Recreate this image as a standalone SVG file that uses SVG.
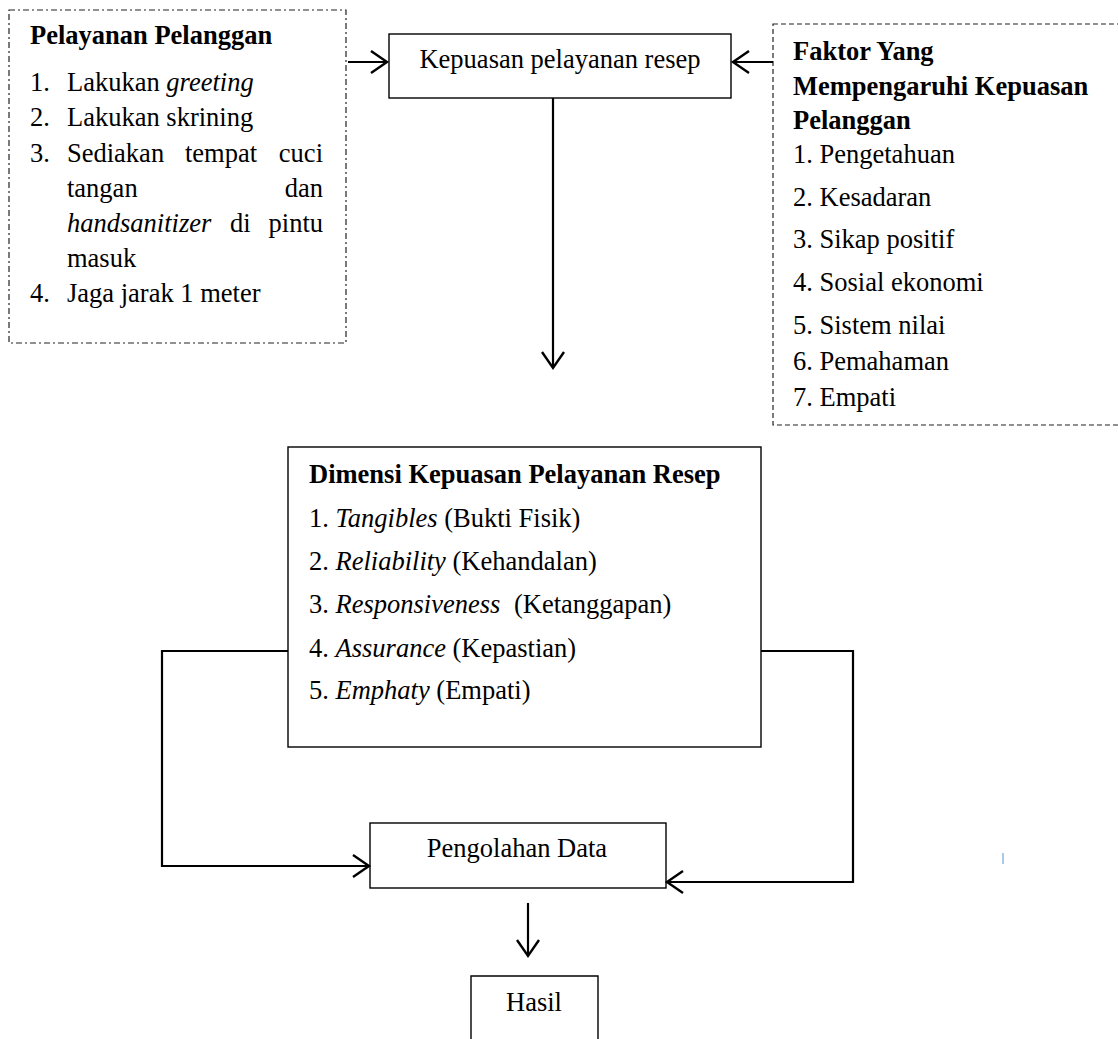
<svg xmlns="http://www.w3.org/2000/svg" width="1118" height="1039" viewBox="0 0 1118 1039" font-family="'Liberation Serif', 'DejaVu Serif', serif">
<style>
text{font-family:"Liberation Serif","DejaVu Serif",serif;font-size:26.5px;fill:#000}
.b{font-weight:bold}
.i{font-style:italic}
.box{fill:#fff;stroke:#000;stroke-width:1.4}
.dd{fill:none;stroke:#222;stroke-width:1.2;stroke-dasharray:6 3 2 3}
.da{fill:none;stroke:#222;stroke-width:1.2;stroke-dasharray:5 3}
.c{fill:none;stroke:#000;stroke-width:2.2}
</style>
<defs>
<marker id="ah" markerUnits="userSpaceOnUse" markerWidth="22" markerHeight="26" refX="18" refY="12" orient="auto">
<path d="M2,1 L18,12 L2,23" fill="none" stroke="#000" stroke-width="2.4"/>
</marker>
</defs>
<rect width="1118" height="1039" fill="#fff"/>

<g id="pelayanan-pelanggan">
<rect class="dd" x="9" y="10" width="337" height="333"/>
<text class="b" x="30" y="44">Pelayanan Pelanggan</text>
<text x="30" y="91">1.</text><text x="67" y="91">Lakukan <tspan class="i">greeting</tspan></text>
<text x="30" y="126">2.</text><text x="67" y="126">Lakukan skrining</text>
<text x="30" y="162">3.</text><text x="67" y="162">Sediakan</text><text x="185" y="162">tempat</text><text x="323" y="162" text-anchor="end">cuci</text>
<text x="67" y="197">tangan</text><text x="323" y="197" text-anchor="end">dan</text>
<text x="67" y="232" class="i">handsanitizer</text><text x="230" y="232">di</text><text x="323" y="232" text-anchor="end">pintu</text>
<text x="67" y="267">masuk</text>
<text x="30" y="302">4.</text><text x="67" y="302">Jaga jarak 1 meter</text>
</g>

<g id="kepuasan">
<rect class="box" x="389" y="34" width="342" height="64"/>
<text x="560" y="68" text-anchor="middle">Kepuasan pelayanan resep</text>
</g>

<g id="faktor">
<rect class="da" x="773" y="24" width="360" height="401"/>
<text class="b" x="793" y="60">Faktor Yang</text>
<text class="b" x="793" y="95">Mempengaruhi Kepuasan</text>
<text class="b" x="793" y="129">Pelanggan</text>
<text x="793" y="163">1. Pengetahuan</text>
<text x="793" y="206">2. Kesadaran</text>
<text x="793" y="248">3. Sikap positif</text>
<text x="793" y="291">4. Sosial ekonomi</text>
<text x="793" y="334">5. Sistem nilai</text>
<text x="793" y="370">6. Pemahaman</text>
<text x="793" y="406">7. Empati</text>
</g>

<g id="dimensi">
<rect class="box" x="288" y="447" width="473" height="300"/>
<text class="b" x="309" y="483">Dimensi Kepuasan Pelayanan Resep</text>
<text x="309" y="527">1. <tspan class="i">Tangibles</tspan> (Bukti Fisik)</text>
<text x="309" y="570">2. <tspan class="i">Reliability</tspan> (Kehandalan)</text>
<text x="309" y="613">3. <tspan class="i">Responsiveness</tspan><tspan dx="7"> (Ketanggapan)</tspan></text>
<text x="309" y="657">4. <tspan class="i">Assurance</tspan> (Kepastian)</text>
<text x="309" y="699">5. <tspan class="i">Emphaty</tspan> (Empati)</text>
</g>

<g id="pengolahan">
<rect class="box" x="370" y="823" width="296" height="65"/>
<text x="517" y="857" text-anchor="middle">Pengolahan Data</text>
</g>

<g id="hasil">
<path class="box" d="M471,1040 V976 H598 V1040"/>
<text x="534" y="1011" text-anchor="middle">Hasil</text>
</g>

<g id="connectors">
<path class="c" d="M348,62 H387" marker-end="url(#ah)"/>
<path class="c" d="M773,62 H733" marker-end="url(#ah)"/>
<path class="c" d="M553,98 V368" marker-end="url(#ah)"/>
<path class="c" d="M288,651 H162 V866 H369" marker-end="url(#ah)"/>
<path class="c" d="M761,651 H853 V882 H667" marker-end="url(#ah)"/>
<path class="c" d="M528,903 V956" marker-end="url(#ah)"/>
</g>
<line x1="1003" y1="853" x2="1003" y2="864" stroke="#8fb8e0" stroke-width="1.5"/>
</svg>
